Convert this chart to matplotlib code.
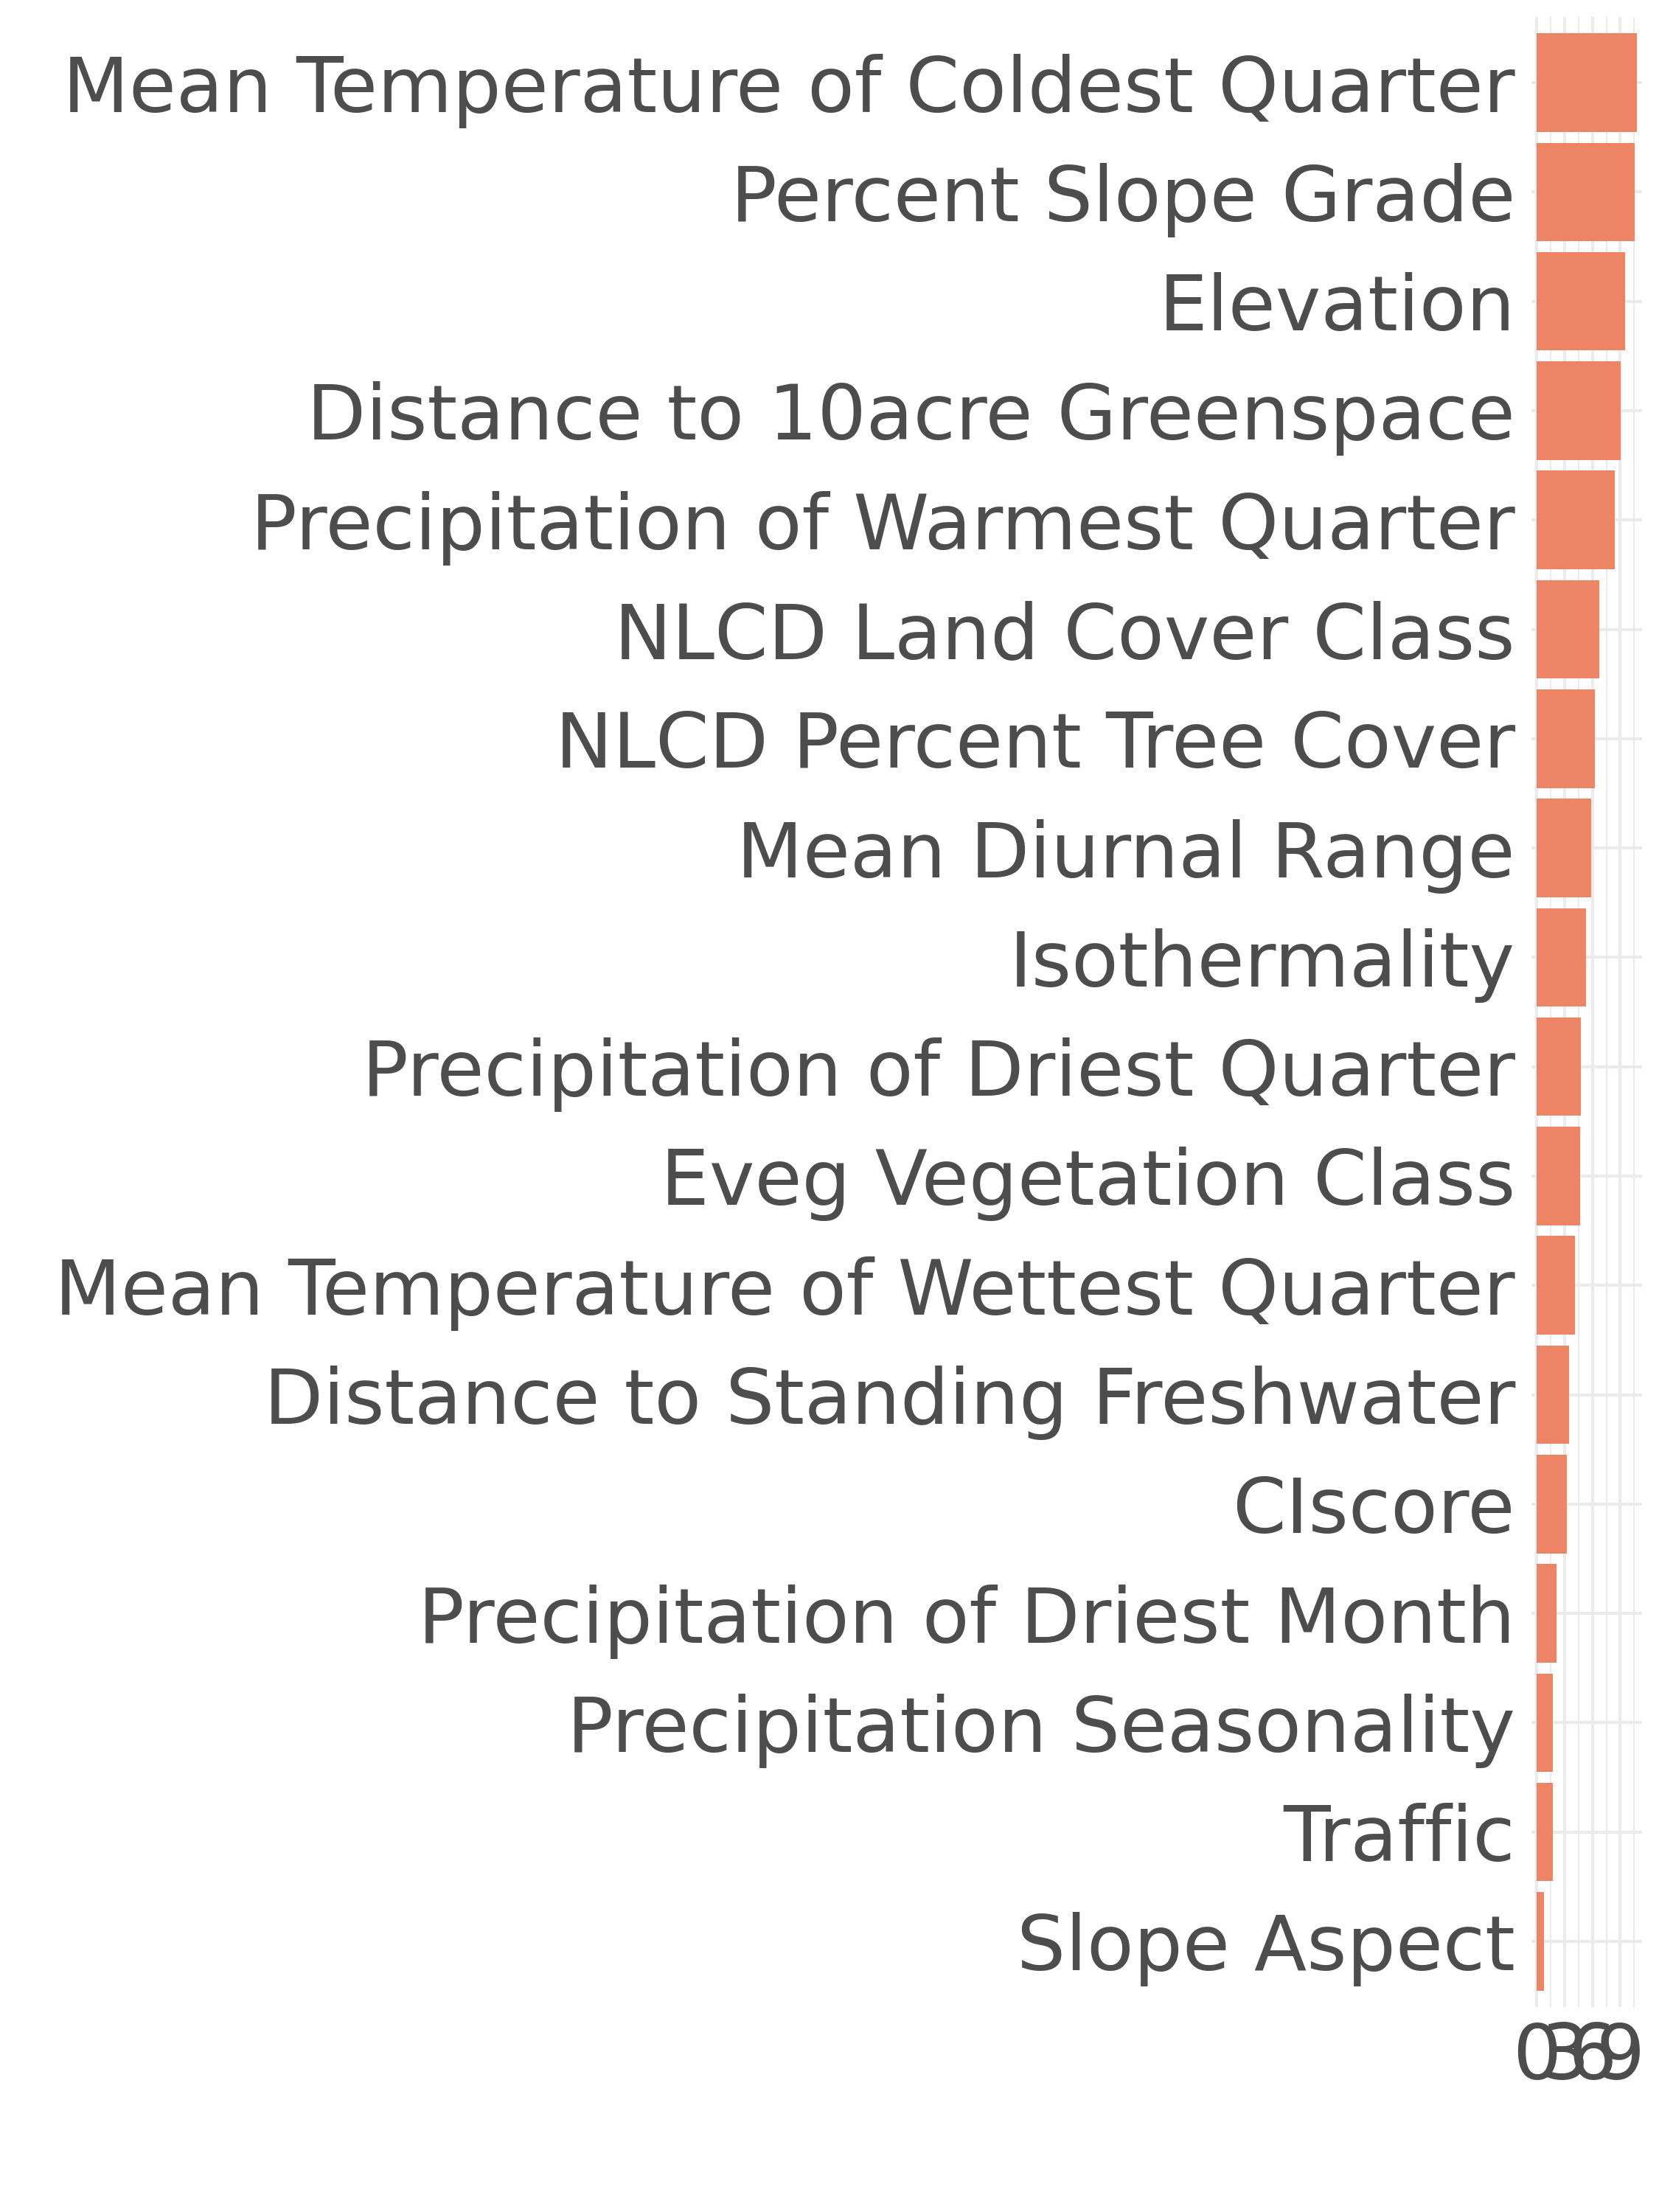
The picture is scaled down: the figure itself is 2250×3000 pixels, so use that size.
import matplotlib
matplotlib.use('Agg')
import matplotlib.pyplot as plt
import numpy as np

plt.rcParams['font.family'] = ['DejaVu Sans']

# feature importance, top to bottom
features = [
    'Mean Temperature of Coldest Quarter',
    'Percent Slope Grade',
    'Elevation',
    'Distance to 10acre Greenspace',
    'Precipitation of Warmest Quarter',
    'NLCD Land Cover Class',
    'NLCD Percent Tree Cover',
    'Mean Diurnal Range',
    'Isothermality',
    'Precipitation of Driest Quarter',
    'Eveg Vegetation Class',
    'Mean Temperature of Wettest Quarter',
    'Distance to Standing Freshwater',
    'CIscore',
    'Precipitation of Driest Month',
    'Precipitation Seasonality',
    'Traffic',
    'Slope Aspect',
]
importance = [10.82, 10.53, 9.51, 9.04, 8.43, 6.76, 6.23, 5.89, 5.33,
              4.72, 4.69, 4.08, 3.50, 3.26, 2.15, 1.75, 1.70, 0.77]
x_ticks = [0, 3, 6, 9]
x_minor = [1.5, 4.5, 7.5, 10.5]

BAR_COLOR = '#EE8466'
GRID_COLOR = '#EBEBEB'
TEXT_COLOR = '#4D4D4D'

fig = plt.figure(figsize=(7.5, 10), dpi=300)
fig.patch.set_facecolor('white')
ax = fig.add_axes([0.9233, 0.0927, 0.9898 - 0.9233, 0.9923 - 0.0927])

pos = np.arange(len(features))
ax.barh(pos, importance, height=0.9, color=BAR_COLOR, zorder=3)

# ggplot-like expansion
top = max(importance)
ax.set_xlim(-0.05 * top, top * 1.05)
ax.set_ylim(len(features) - 0.4, -0.6)

ax.set_yticks(pos)
ax.set_yticklabels(features)
ax.set_xticks(x_ticks)
ax.set_xticklabels([str(t) for t in x_ticks])
ax.set_xticks(x_minor, minor=True)

ax.grid(axis='x', which='major', color=GRID_COLOR, linewidth=1.0, zorder=0)
ax.grid(axis='x', which='minor', color=GRID_COLOR, linewidth=0.5, zorder=0)
ax.grid(axis='y', which='major', color=GRID_COLOR, linewidth=1.0, zorder=0)

for s in ax.spines.values():
    s.set_visible(False)
ax.tick_params(axis='both', which='both', length=0, labelsize=25, colors=TEXT_COLOR)
ax.tick_params(axis='y', pad=5.4)
ax.tick_params(axis='x', pad=4.5)

fig.savefig('out.png', dpi=300, facecolor='white')
plt.close()
